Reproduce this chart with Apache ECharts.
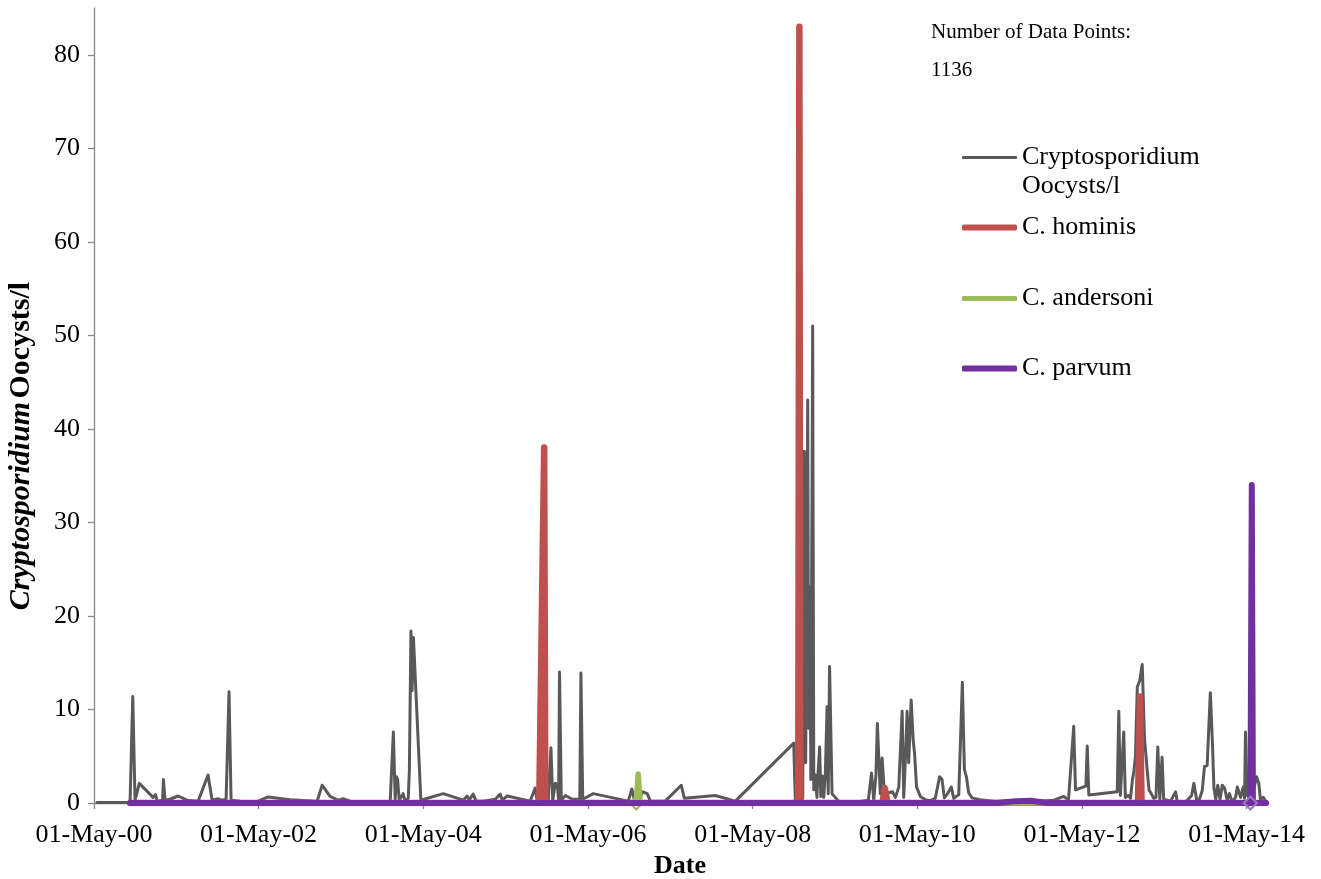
<!DOCTYPE html>
<html>
<head>
<meta charset="utf-8">
<title>Cryptosporidium Oocysts/l</title>
<script src="https://cdn.jsdelivr.net/npm/echarts@6/dist/echarts.min.js"></script>
<style>
  html, body { margin: 0; padding: 0; background: #ffffff; }
  #chart { width: 1321px; height: 879px; }
</style>
</head>
<body>
<div id="chart"></div>
<script>
// Total oocyst counts per sampling date (oocysts per litre)
const oocystSamples = [
  ['2000-05-14', 0.05], ['2000-10-08', 0.05], ['2000-10-20', 11.4], ['2000-10-30', 0.3],
  ['2000-11-18', 2.1], ['2001-01-18', 0.6], ['2001-01-29', 0.9], ['2001-02-05', 0.2],
  ['2001-03-01', 0.3], ['2001-03-05', 2.5], ['2001-03-12', 0.3], ['2001-04-03', 0.4],
  ['2001-05-09', 0.75], ['2001-06-18', 0.3], ['2001-08-06', 0.2], ['2001-09-19', 3.0],
  ['2001-10-07', 0.3], ['2001-11-03', 0.45], ['2001-11-20', 0.3], ['2001-12-08', 0.4],
  ['2001-12-21', 11.9], ['2001-12-30', 0.3], ['2002-02-08', 0.2], ['2002-04-25', 0.15],
  ['2002-06-12', 0.65], ['2002-09-18', 0.35], ['2003-01-16', 0.2], ['2003-02-07', 1.9],
  ['2003-03-14', 0.7], ['2003-04-19', 0.3], ['2003-05-11', 0.45], ['2003-06-11', 0.2],
  ['2003-08-17', 0.1], ['2003-12-06', 0.2], ['2003-12-20', 7.6], ['2003-12-28', 0.4],
  ['2004-01-03', 2.8], ['2004-01-08', 2.5], ['2004-01-15', 0.3], ['2004-02-01', 1.0],
  ['2004-02-10', 0.2], ['2004-02-24', 0.5], ['2004-02-29', 3.5], ['2004-03-07', 18.4],
  ['2004-03-12', 12.0], ['2004-03-18', 17.7], ['2004-04-20', 0.3], ['2004-07-28', 1.0],
  ['2004-10-25', 0.3], ['2004-11-11', 0.75], ['2004-11-20', 0.3], ['2004-12-08', 0.95],
  ['2004-12-21', 0.2], ['2005-01-21', 0.2], ['2005-03-16', 0.4], ['2005-04-07', 0.95],
  ['2005-04-16', 0.3], ['2005-05-08', 0.75], ['2005-08-18', 0.2], ['2005-09-09', 1.6],
  ['2005-09-18', 0.2], ['2005-11-06', 0.3], ['2005-11-18', 5.9], ['2005-11-26', 0.3],
  ['2005-12-07', 2.1], ['2005-12-16', 2.0], ['2005-12-22', 0.3], ['2005-12-26', 14.0],
  ['2006-01-03', 0.3], ['2006-01-21', 0.8], ['2006-02-21', 0.4], ['2006-03-26', 0.4],
  ['2006-03-31', 13.9], ['2006-04-08', 0.4], ['2006-05-25', 1.0], ['2006-10-27', 0.2],
  ['2006-11-12', 1.5], ['2006-11-23', 0.3], ['2006-12-10', 0.5], ['2006-12-31', 1.2],
  ['2007-01-19', 1.0], ['2007-02-02', 0.2], ['2007-04-09', 0.2], ['2007-06-19', 1.9],
  ['2007-07-03', 0.5], ['2007-11-17', 0.8], ['2008-02-14', 0.2], ['2008-10-30', 6.4],
  ['2008-11-06', 0.3], ['2008-12-09', 0.5], ['2008-12-16', 37.6], ['2008-12-22', 4.3],
  ['2008-12-31', 43.1], ['2009-01-04', 8.0], ['2009-01-09', 23.1], ['2009-01-14', 2.5],
  ['2009-01-22', 51.0], ['2009-01-27', 1.4], ['2009-02-03', 3.0], ['2009-02-10', 0.6],
  ['2009-02-14', 2.8], ['2009-02-22', 6.0], ['2009-02-27', 0.7], ['2009-03-06', 2.9],
  ['2009-03-12', 0.6], ['2009-03-19', 3.0], ['2009-03-27', 10.3], ['2009-04-01', 1.0],
  ['2009-04-07', 14.6], ['2009-04-18', 1.0], ['2009-05-17', 0.2], ['2009-08-22', 0.15],
  ['2009-09-26', 0.3], ['2009-10-10', 3.2], ['2009-10-20', 0.3], ['2009-10-30', 3.1],
  ['2009-11-05', 8.5], ['2009-11-12', 8.5], ['2009-11-18', 1.0], ['2009-11-26', 4.8],
  ['2009-12-02', 4.8], ['2009-12-08', 0.5], ['2009-12-25', 1.1], ['2010-01-11', 1.2],
  ['2010-01-24', 0.6], ['2010-02-08', 1.7], ['2010-02-23', 9.8], ['2010-03-02', 0.6],
  ['2010-03-10', 5.0], ['2010-03-17', 9.8], ['2010-03-24', 4.3], ['2010-04-04', 11.0],
  ['2010-04-13', 6.7], ['2010-04-19', 5.3], ['2010-04-28', 1.7], ['2010-05-15', 0.7],
  ['2010-06-06', 0.35], ['2010-06-28', 0.25], ['2010-07-20', 0.5], ['2010-08-08', 2.8],
  ['2010-08-19', 2.5], ['2010-08-29', 0.55], ['2010-09-10', 0.9], ['2010-09-29', 1.7],
  ['2010-10-10', 0.5], ['2010-11-01', 0.9], ['2010-11-17', 12.9], ['2010-11-26', 3.6],
  ['2010-12-05', 2.8], ['2010-12-15', 1.1], ['2010-12-30', 0.55], ['2011-02-04', 0.35],
  ['2011-04-05', 0.2], ['2011-07-11', 0.2], ['2011-10-30', 0.2], ['2011-12-28', 0.3],
  ['2012-02-10', 0.7], ['2012-03-02', 0.35], ['2012-03-25', 8.2], ['2012-04-02', 1.4],
  ['2012-05-18', 1.8], ['2012-05-24', 6.1], ['2012-05-31', 0.85], ['2012-10-04', 1.2],
  ['2012-10-11', 9.8], ['2012-10-18', 0.8], ['2012-10-25', 1.0], ['2012-11-02', 7.6],
  ['2012-11-09', 0.6], ['2012-11-23', 0.8], ['2012-12-02', 0.5], ['2012-12-10', 2.4],
  ['2012-12-17', 3.4], ['2012-12-24', 5.0], ['2013-01-01', 12.4], ['2013-01-12', 13.1],
  ['2013-01-23', 14.8], ['2013-02-02', 6.9], ['2013-02-14', 3.5], ['2013-02-22', 1.4],
  ['2013-03-04', 1.0], ['2013-03-15', 0.5], ['2013-03-25', 0.6], ['2013-04-02', 6.0],
  ['2013-04-11', 0.4], ['2013-04-21', 4.9], ['2013-04-28', 0.4], ['2013-05-14', 0.3],
  ['2013-05-29', 0.2], ['2013-06-20', 1.2], ['2013-06-27', 0.2], ['2013-07-27', 0.1],
  ['2013-08-11', 0.3], ['2013-08-30', 0.8], ['2013-09-09', 2.1], ['2013-09-21', 0.4],
  ['2013-10-01', 0.2], ['2013-10-16', 1.3], ['2013-10-26', 3.9], ['2013-11-07', 4.0],
  ['2013-11-21', 11.8], ['2013-11-30', 6.7], ['2013-12-07', 1.6], ['2013-12-15', 0.4],
  ['2013-12-24', 1.9], ['2014-01-03', 0.4], ['2014-01-13', 1.9], ['2014-01-23', 1.6],
  ['2014-02-04', 0.3], ['2014-02-14', 1.0], ['2014-02-26', 0.1], ['2014-03-13', 0.6],
  ['2014-03-21', 1.7], ['2014-04-04', 0.6], ['2014-04-16', 1.7], ['2014-04-22', 0.5],
  ['2014-04-26', 7.6], ['2014-05-03', 0.8], ['2014-05-23', 0.5], ['2014-06-14', 2.8],
  ['2014-06-24', 2.1], ['2014-07-01', 0.4], ['2014-07-14', 0.6], ['2014-07-24', 0.2]
];

// Species-level results (oocysts per litre attributed to each species)
const hominisSamples = [
  ['2000-10-08', 0], ['2005-09-27', 0], ['2005-10-19', 38], ['2005-10-24', 0],
  ['2008-11-19', 0], ['2008-11-24', 83], ['2008-11-28', 0],
  ['2009-11-27', 0], ['2009-12-08', 1.6], ['2009-12-20', 0],
  ['2013-01-04', 0], ['2013-01-13', 11.4], ['2013-01-20', 0], ['2014-07-24', 0]
];
const andersoniSamples = [
  ['2000-10-08', 0], ['2006-12-01', 0], ['2006-12-10', 3.1], ['2006-12-19', 0], ['2014-07-24', 0]
];
const parvumSamples = [
  ['2000-10-08', 0], ['2011-04-21', 0], ['2011-07-11', 0.2], ['2011-09-15', 0.25], ['2011-11-30', 0],
  ['2014-05-18', 0], ['2014-05-24', 34], ['2014-05-29', 0], ['2014-07-26', 0]
];

// Sample dates flagged with a diamond marker
const andersoniMarkerDate = '2006-12-01';
const parvumMarkerDate = '2014-05-18';

// Axis ticks
const dateTicks = ['2000-05-01', '2002-05-01', '2004-05-01', '2006-05-01',
                   '2008-05-01', '2010-05-01', '2012-05-01', '2014-05-01'];
const dateAxisStart = '2000-05-01';
const dateAxisEnd = '2014-07-26';
const countTicks = [0, 10, 20, 30, 40, 50, 60, 70, 80];
const countAxisMax = 85;

const seriesNames = ['Cryptosporidium Oocysts/l', 'C. hominis', 'C. andersoni', 'C. parvum'];
const seriesColors = ['#595959', '#C0504D', '#9BBB59', '#7030A0'];

const FONT = '"Liberation Serif", "Times New Roman", serif';
const MONTHS = ['Jan', 'Feb', 'Mar', 'Apr', 'May', 'Jun', 'Jul', 'Aug', 'Sep', 'Oct', 'Nov', 'Dec'];

function toTime(s) {
  const p = s.split('-').map(Number);
  return Date.UTC(p[0], p[1] - 1, p[2]);
}
function pad2(n) { return (n < 10 ? '0' : '') + n; }
function formatDate(v) {
  const d = new Date(v);
  return pad2(d.getUTCDate()) + '-' + MONTHS[d.getUTCMonth()] + '-' + pad2(d.getUTCFullYear() % 100);
}
function buildData(samples, markerDate, markerColor) {
  return samples.map(function (s) {
    const item = { value: [toTime(s[0]), s[1]] };
    if (markerDate && s[0] === markerDate) {
      item.symbol = 'diamond';
      item.symbolSize = 13;
      item.itemStyle = { color: 'rgba(255,255,255,0)', borderColor: markerColor, borderWidth: 2 };
    }
    return item;
  });
}
function lineSeries(idx, data, width, z) {
  return {
    name: seriesNames[idx],
    type: 'line',
    data: data,
    symbol: 'none',
    showSymbol: true,
    z: z,
    itemStyle: { color: seriesColors[idx] },
    lineStyle: { color: seriesColors[idx], width: width, cap: 'round', join: 'round' },
    emphasis: { disabled: true },
    silent: true
  };
}
function legendFor(idx, top, iconHeight, extra) {
  const base = {
    orient: 'vertical',
    left: 962,
    top: top,
    padding: 0,
    itemWidth: 55,
    itemHeight: iconHeight,
    selectedMode: false,
    data: [{ name: seriesNames[idx], icon: 'roundRect' }],
    textStyle: { fontFamily: FONT, fontSize: 26, color: '#000', lineHeight: 29 }
  };
  return Object.assign(base, extra || {});
}

const chart = echarts.init(document.getElementById('chart'), null, { renderer: 'canvas' });

chart.setOption({
  animation: false,
  backgroundColor: '#ffffff',
  title: {
    text: 'Number of Data Points:\n1136',
    left: 931,
    top: 13,
    padding: 0,
    textStyle: { fontFamily: FONT, fontSize: 21, fontWeight: 'normal', color: '#000', lineHeight: 38 }
  },
  legend: [
    // the two-line label hangs below its line icon: an empty leading line
    // keeps the first text line level with the icon
    legendFor(0, 114, 3, {
      formatter: function () { return '\nCryptosporidium\nOocysts/l'; }
    }),
    legendFor(1, 213, 6),
    legendFor(2, 284, 5),
    legendFor(3, 354, 6)
  ],
  grid: { left: 94, right: 55, top: 8, bottom: 76, containLabel: false, outerBoundsMode: 'none' },
  xAxis: {
    type: 'value',
    min: toTime(dateAxisStart),
    max: toTime(dateAxisEnd),
    name: 'Date',
    nameLocation: 'middle',
    nameGap: 50,
    nameMoveOverlap: false,
    nameTextStyle: { fontFamily: FONT, fontSize: 26, fontWeight: 'bold', color: '#000' },
    axisLine: { show: true, onZero: false, lineStyle: { color: '#868686', width: 1.3 } },
    axisTick: { show: true, length: 6, lineStyle: { color: '#868686', width: 1.3 },
                customValues: dateTicks.map(toTime) },
    axisLabel: { fontFamily: FONT, fontSize: 26, color: '#000', margin: 19,
                 customValues: dateTicks.map(toTime), formatter: formatDate },
    splitLine: { show: false }
  },
  yAxis: {
    type: 'value',
    min: 0,
    max: countAxisMax,
    axisLine: { show: true, lineStyle: { color: '#868686', width: 1.3 } },
    axisTick: { show: true, length: 6, lineStyle: { color: '#868686', width: 1.3 },
                customValues: countTicks },
    axisLabel: { fontFamily: FONT, fontSize: 26, color: '#000', margin: 14,
                 customValues: countTicks },
    splitLine: { show: false }
  },
  graphic: [{
    type: 'text',
    x: 21,
    y: 446,
    rotation: Math.PI / 2,
    silent: true,
    style: {
      text: '{i|Cryptosporidium} {b|Oocysts/l}',
      align: 'center',
      verticalAlign: 'middle',
      fill: '#000',
      rich: {
        i: { fontFamily: FONT, fontSize: 30, fontStyle: 'italic', fontWeight: 'bold', fill: '#000' },
        b: { fontFamily: FONT, fontSize: 30, fontWeight: 'bold', fill: '#000' }
      }
    }
  }],
  series: [
    lineSeries(0, buildData(oocystSamples), 3, 2),
    lineSeries(1, buildData(hominisSamples), 6.5, 3),
    lineSeries(2, buildData(andersoniSamples, andersoniMarkerDate, '#9BBB59'), 5.5, 4),
    lineSeries(3, buildData(parvumSamples, parvumMarkerDate, '#9878c4'), 6, 5)
  ]
});
</script>
</body>
</html>
